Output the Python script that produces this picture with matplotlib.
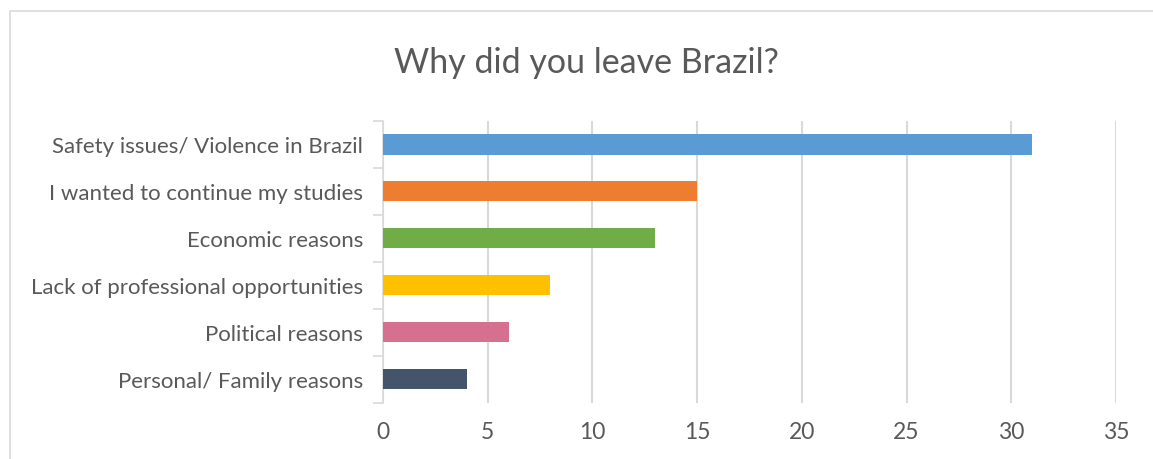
import matplotlib
matplotlib.use('Agg')
import matplotlib.pyplot as plt
from matplotlib.patches import Rectangle

categories = ['Safety issues/ Violence in Brazil', 'I wanted to continue my studies',
              'Economic reasons', 'Lack of professional opportunities',
              'Political reasons', 'Personal/ Family reasons']
values = [31, 15, 13, 8, 6, 4]
colors = ['#5B9BD5', '#ED7D31', '#70AD47', '#FFC000', '#D5708F', '#44546A']
xticks = [0, 5, 10, 15, 20, 25, 30, 35]

plt.rcParams['font.family'] = ['Lato', 'DejaVu Sans']

fig = plt.figure(figsize=(11.53, 4.60), dpi=100)
ax = fig.add_axes([0.332, 0.122, 0.636, 0.613])

# outer chart frame
fig.patches.append(Rectangle((10 / 1153, -0.1), 1.2, 1 - 12 / 460 + 0.1,
                             transform=fig.transFigure, fill=False,
                             edgecolor='#d9d9d9', linewidth=1.2))

y = list(range(len(categories)))
ax.barh(y, values, height=0.43, color=colors, zorder=3)
ax.set_ylim(len(categories) - 0.5, -0.5)
ax.set_xlim(0, 35)
ax.set_xticks(xticks)
ax.set_xticklabels([str(t) for t in xticks])
ax.set_yticks(y)
ax.set_yticklabels(categories)

# category boundary ticks
ax.set_yticks([i - 0.5 for i in range(len(categories) + 1)], minor=True)
ax.tick_params(axis='y', which='major', length=0, pad=14, labelsize=16, labelcolor='#595959')
ax.tick_params(axis='y', which='minor', length=7, width=1.2, color='#d9d9d9', direction='out')
ax.tick_params(axis='x', length=0, pad=13, labelsize=16.5, labelcolor='#595959')

ax.grid(axis='x', color='#d9d9d9', linewidth=1.5, zorder=0)
for s in ['top', 'right', 'bottom']:
    ax.spines[s].set_visible(False)
ax.spines['left'].set_color('#d9d9d9')
ax.spines['left'].set_linewidth(1.2)

fig.text(0.509, 0.862, 'Why did you leave Brazil?', ha='center', va='center',
         fontsize=24.5, color='#595959')

fig.savefig('out.png', dpi=100)
